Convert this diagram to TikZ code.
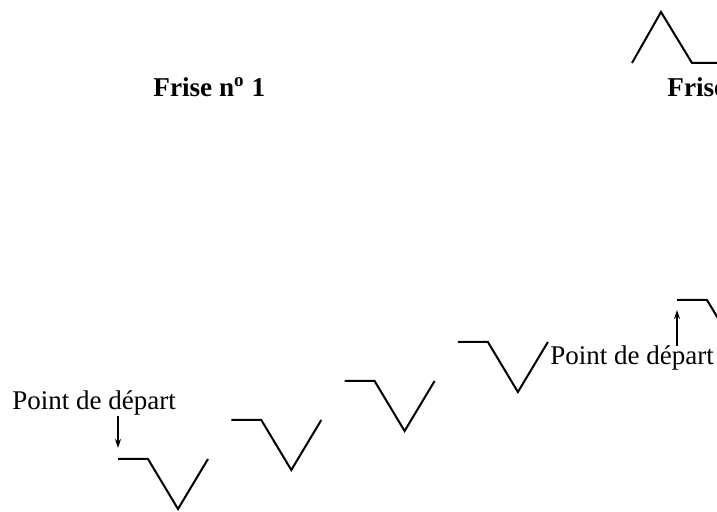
\documentclass[tikz,border=0pt]{standalone}
\usepackage{fontspec}
\setmainfont{Liberation Serif}
\usetikzlibrary{positioning,arrows.meta}
\begin{document}
\begin{tikzpicture}[x=0.5pt,y=-0.5pt,
    motif/.style={line width=1pt,line join=miter},
    fleche/.style={->,>={Stealth[length=4.5pt,width=3pt]},line width=0.7pt},
    titre/.style={font=\fontsize{13.6}{16}\selectfont\bfseries,inner sep=0pt,anchor=base west},
    depart/.style={font=\fontsize{13.5}{16}\selectfont,inner sep=0pt,anchor=base west}
]
\clip (0,0) rectangle (717,512);

% Titles
\node[titre] (frise1) at (153,97) {Frise n\textsuperscript{o} 1};
\node[titre] (frise2) at (667,97) {Frise};

% Top right motif
\coordinate (t1) at (632,63);
\draw[motif] (t1) -- ++(29,-51) -- ++(31,51) -- ++(40,0);

% Frieze 1: four motifs going up
\foreach \i in {1,...,4}{
  \coordinate (m\i) at ({118+113.3*(\i-1)},{459-39*(\i-1)});
  \draw[motif] (m\i) -- ++(30,0) -- ++(30,50) -- ++(30,-50);
}
\node[depart] (dep1) at (12,410) {Point de départ};
\draw[fleche] (dep1.south -| m1) -- ([yshift=5.5pt]m1);

% Frieze 2 start
\coordinate (m5) at (677,300);
\draw[motif] (m5) -- ++(30,0) -- ++(30,50) -- ++(30,-50);
\node[depart] (dep2) at (550,365) {Point de départ};
\draw[fleche] (dep2.north -| m5) -- ([yshift=-5pt]m5);
\end{tikzpicture}
\end{document}
